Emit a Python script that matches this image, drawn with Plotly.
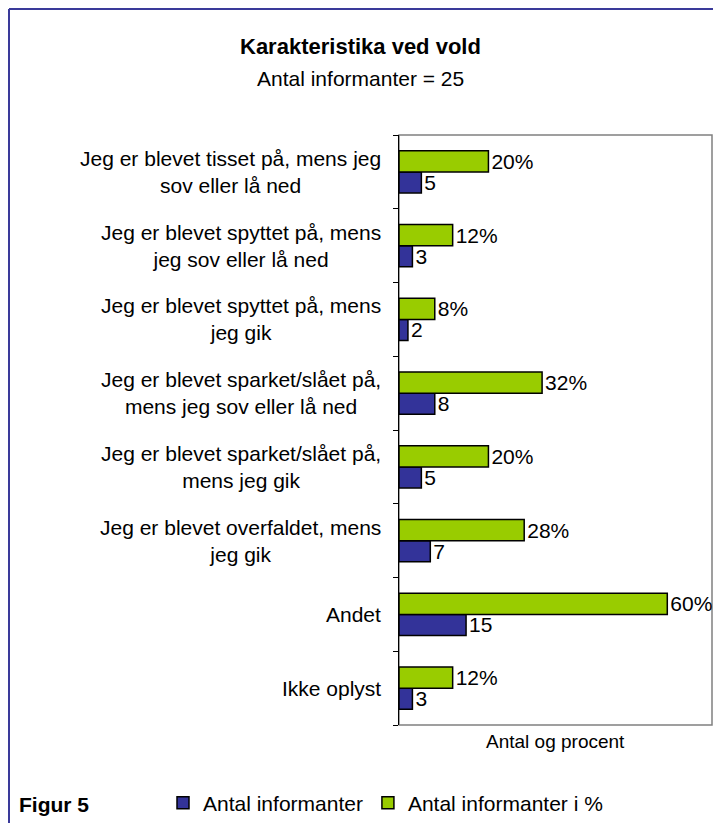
import plotly.graph_objects as go

# data
categories = [
    "Jeg er blevet tisset på, mens jeg sov eller lå ned",
    "Jeg er blevet spyttet på, mens jeg sov eller lå ned",
    "Jeg er blevet spyttet på, mens jeg gik",
    "Jeg er blevet sparket/slået på, mens jeg sov eller lå ned",
    "Jeg er blevet sparket/slået på, mens jeg gik",
    "Jeg er blevet overfaldet, mens jeg gik",
    "Andet",
    "Ikke oplyst",
]
labels = [
    "Jeg er blevet tisset på, mens jeg<br>sov eller lå ned",
    "Jeg er blevet spyttet på, mens<br>jeg sov eller lå ned",
    "Jeg er blevet spyttet på, mens<br>jeg gik",
    "Jeg er blevet sparket/slået på,<br>mens jeg sov eller lå ned",
    "Jeg er blevet sparket/slået på,<br>mens jeg gik",
    "Jeg er blevet overfaldet, mens<br>jeg gik",
    "Andet",
    "Ikke oplyst",
]
antal = [5, 3, 2, 8, 5, 7, 15, 3]
procent = [20, 12, 8, 32, 20, 28, 60, 12]

FONT = "Liberation Sans, Arial, sans-serif"
BLUE = "#333399"
GREEN = "#99CC00"

# page has an 8px body margin, so the figure sits at (8, 8)
OFF = 8
W, H = 721 - OFF, 823 - OFF
# plot area in page pixels: x 399..712, y 135..725
L, R, T, B = 399, 712, 135, 725
pw, ph = R - L, B - T


def px(x):
    return (x - L) / pw


def py(y):
    return (B - y) / ph


fig = go.Figure()
fig.add_trace(go.Bar(
    y=categories, x=antal, orientation="h", name="Antal informanter",
    marker=dict(color=BLUE, line=dict(color="black", width=1.5)),
    texttemplate="%{x}", textposition="outside",
    textfont=dict(size=21, color="black", family=FONT),
    cliponaxis=False, constraintext="none",
))
fig.add_trace(go.Bar(
    y=categories, x=procent, orientation="h", name="Antal informanter i %",
    marker=dict(color=GREEN, line=dict(color="black", width=1.5)),
    texttemplate="%{x}%", textposition="outside",
    textfont=dict(size=21, color="black", family=FONT),
    cliponaxis=False, constraintext="none",
))

annotations = []
for cat, lab in zip(categories, labels):
    annotations.append(dict(
        x=px(383), xref="paper", y=cat, yref="y", text=lab,
        xanchor="right", yanchor="middle", align="center", showarrow=False,
        font=dict(size=21, color="black", family=FONT),
    ))
annotations += [
    dict(x=px(360.5), xref="paper", y=py(47), yref="paper", showarrow=False,
         text="<b>Karakteristika ved vold</b>", xanchor="center",
         yanchor="middle", font=dict(size=22, color="black", family=FONT)),
    dict(x=px(360.5), xref="paper", y=py(78), yref="paper", showarrow=False,
         text="Antal informanter = 25", xanchor="center", yanchor="middle",
         font=dict(size=21, color="black", family=FONT)),
    dict(x=0.5, xref="paper", y=py(741), yref="paper", showarrow=False,
         text="Antal og procent", xanchor="center", yanchor="middle",
         font=dict(size=19, color="black", family=FONT)),
    dict(x=px(17), xref="paper", y=py(804), yref="paper", showarrow=False,
         text="<b>Figur 5</b>", xanchor="left", yanchor="middle",
         font=dict(size=21, color="black", family=FONT)),
]

shapes = [
    dict(type="rect", xref="paper", yref="paper", x0=0, x1=1, y0=0, y1=1,
         line=dict(color="#808080", width=1.5), layer="below"),
    dict(type="line", xref="paper", yref="paper", x0=px(9), x1=px(9),
         y0=py(9), y1=py(900), line=dict(color="#3a3a9a", width=2)),
    dict(type="line", xref="paper", yref="paper", x0=px(9), x1=px(760),
         y0=py(9), y1=py(9), line=dict(color="#3a3a9a", width=2)),
]

fig.update_layout(
    width=W, height=H,
    margin=dict(l=L - OFF, r=721 - R, t=T - OFF, b=823 - B, pad=0,
                autoexpand=False),
    paper_bgcolor="white", plot_bgcolor="white",
    barmode="group", bargap=0.43, bargroupgap=0,
    font=dict(family=FONT, size=21, color="black"),
    showlegend=True,
    legend=dict(orientation="h", x=px(163), xanchor="left",
                y=py(803), yanchor="middle",
                font=dict(size=21), bgcolor="rgba(0,0,0,0)",
                traceorder="normal", itemwidth=30),
    annotations=annotations,
    shapes=shapes,
)
fig.update_xaxes(range=[0, 70], showticklabels=False, showgrid=False,
                 zeroline=False, ticks="", fixedrange=True)
fig.update_yaxes(categoryorder="array", categoryarray=categories[::-1],
                 showticklabels=False, showgrid=False, zeroline=False,
                 showline=True, linecolor="black", linewidth=1,
                 ticks="outside", tickson="boundaries", ticklen=5,
                 tickcolor="black")

fig.write_html("out.html")
